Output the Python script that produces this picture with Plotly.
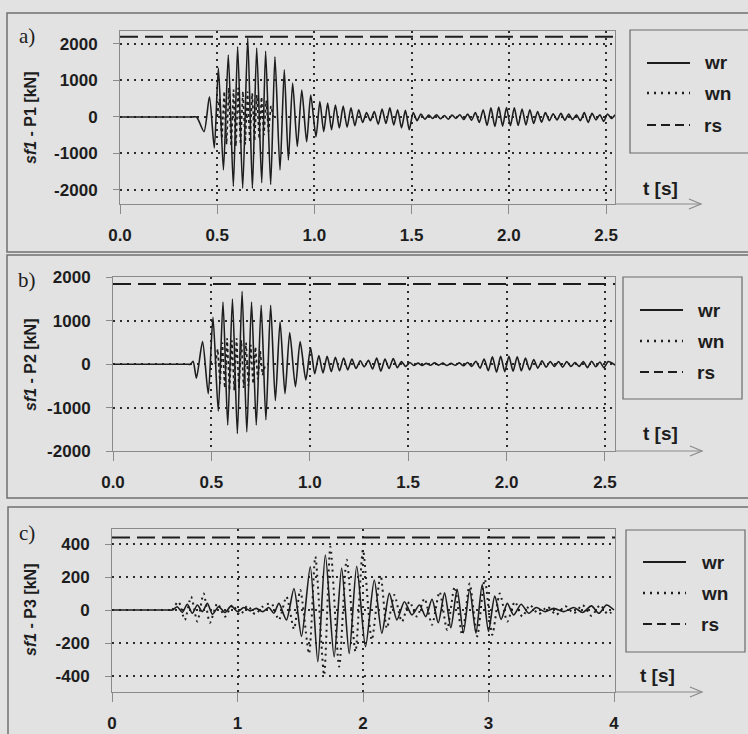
import plotly.graph_objects as go

W, H = 748, 734

# ---------------- data ----------------
# panel a) sf1 - P1 [kN], t in s
A_WR_T = [0.0, 0.37, 0.394, 0.432, 0.460, 0.485, 0.506, 0.532, 0.557, 0.583, 0.605, 0.631, 0.657, 0.681,
          0.703, 0.729, 0.749, 0.775, 0.797, 0.823, 0.845, 0.866, 0.888, 0.912, 0.935, 0.960, 0.981,
          1.008, 1.028, 1.048, 1.068, 1.088, 1.108, 1.128, 1.148, 1.168, 1.188, 1.208, 1.228, 1.248,
          1.268, 1.288, 1.308, 1.328, 1.348, 1.368, 1.388, 1.408, 1.428, 1.448, 1.468, 1.488, 1.508,
          1.528, 1.548, 1.568, 1.588, 1.608, 1.628, 1.648, 1.668, 1.688, 1.708, 1.728, 1.748, 1.768,
          1.788, 1.808, 1.828, 1.848, 1.868, 1.888, 1.908, 1.928, 1.948, 1.968, 1.988, 2.008, 2.028,
          2.048, 2.068, 2.088, 2.108, 2.128, 2.148, 2.168, 2.188, 2.208, 2.228, 2.248, 2.268, 2.288,
          2.308, 2.328, 2.348, 2.368, 2.388, 2.408, 2.428, 2.448, 2.468, 2.488, 2.508, 2.528, 2.546]
A_WR_V = [0, 0, 0, -400, 556, -850, 1340, -1450, 1700, -1900, 1925, -1950, 2160, -1960,
          1890, -1800, 1800, -1850, 1650, -1450, 1290, -1180, 930, -810, 740, -680, 600,
          -540, 420, -400, 380, -350, 330, -300, 300, -280, 250, -240, 200, -150,
          120, -100, 150, -200, 220, -180, 250, -220, 200, -300, 180, -350, 120,
          -100, 80, -60, 50, -40, 60, -50, 40, -60, 50, -40, 60, -70,
          80, -90, 120, -150, 200, -230, 250, -260, 270, -250, 260, -240, 250,
          -230, 220, -220, 200, -180, 150, -140, 120, -100, 90, -80, 100, -90,
          80, -70, 60, -100, 120, -150, 100, -80, 60, -120, 80, -40, 60]
A_WN_T = [0.50, 0.512, 0.524, 0.536, 0.548, 0.560, 0.572, 0.584, 0.596, 0.608, 0.620, 0.632, 0.644,
          0.656, 0.668, 0.680, 0.692, 0.704, 0.716, 0.728, 0.740, 0.752, 0.764, 0.776, 0.790]
A_WN_V = [0, 500, -600, 700, -750, 800, -800, 750, -800, 800, -750, 700, -750,
          700, -700, 650, -650, 600, -600, 550, -500, 450, -400, 300, 0]
A_RS = 2200

# panel b) sf1 - P2 [kN]
B_WR_T = [0.0, 0.37, 0.394, 0.407, 0.424, 0.455, 0.484, 0.508, 0.535, 0.559, 0.583, 0.607, 0.632, 0.656,
          0.680, 0.704, 0.728, 0.753, 0.777, 0.801, 0.825, 0.849, 0.874, 0.898, 0.927, 0.951, 0.980,
          1.004, 1.025, 1.046, 1.067, 1.088, 1.109, 1.130, 1.151, 1.172, 1.193, 1.214, 1.235, 1.256,
          1.277, 1.298, 1.319, 1.340, 1.361, 1.382, 1.403, 1.424, 1.445, 1.466, 1.487, 1.508, 1.529,
          1.550, 1.571, 1.592, 1.613, 1.634, 1.655, 1.676, 1.697, 1.718, 1.739, 1.760, 1.781, 1.802,
          1.823, 1.844, 1.865, 1.886, 1.907, 1.928, 1.949, 1.970, 1.991, 2.012, 2.033, 2.054, 2.075,
          2.096, 2.117, 2.138, 2.159, 2.180, 2.201, 2.222, 2.243, 2.264, 2.285, 2.306, 2.327, 2.348,
          2.369, 2.390, 2.411, 2.432, 2.453, 2.474, 2.495, 2.516, 2.551]
B_WR_V = [0, 0, 0, 70, -320, 520, -680, 1080, -1080, 1430, -1400, 1500, -1600, 1680,
          -1560, 1430, -1400, 1360, -1280, 1360, -840, 980, -680, 730, -520, 520, -360,
          380, -220, 200, -200, 180, -170, 160, -150, 140, -130, 120, -100, 80,
          -60, 90, -110, 140, -160, 120, -100, 130, -80, 60, -50, 40, -30,
          25, -30, 20, -25, 30, -20, 25, -30, 20, -25, 30, -35, 40,
          -50, 70, -90, 120, -150, 170, -180, 180, -170, 180, -160, 170, -150,
          140, -130, 110, -90, 80, -70, 60, -50, 60, -70, 60, -50, 40,
          -50, 60, -80, 70, -60, 50, -80, 60, -20, 50]
B_WN_T = [0.52, 0.532, 0.544, 0.556, 0.568, 0.580, 0.592, 0.604, 0.616, 0.628, 0.640, 0.652,
          0.664, 0.676, 0.688, 0.700, 0.712, 0.724, 0.736, 0.748, 0.760, 0.775]
B_WN_V = [0, 350, -450, 500, -550, 600, -600, 550, -600, 600, -550, 550,
          -550, 500, -500, 450, -450, 400, -350, 300, -250, 0]
B_RS = 1850

# panel c) sf1 - P3 [kN]
C_WR_T = [0.0, 0.45, 0.48, 0.52, 0.56, 0.60, 0.64, 0.68, 0.72, 0.76, 0.80, 0.85, 0.90, 0.95, 1.00, 1.05,
          1.10, 1.15, 1.20, 1.25, 1.29, 1.33, 1.39, 1.45, 1.51, 1.58, 1.64, 1.70, 1.77, 1.83, 1.89,
          1.95, 2.02, 2.09, 2.15, 2.21, 2.27, 2.33, 2.39, 2.45, 2.50, 2.55, 2.60, 2.65, 2.70, 2.75,
          2.80, 2.85, 2.90, 2.95, 3.00, 3.05, 3.10, 3.15, 3.20, 3.26, 3.32, 3.38, 3.45, 3.52, 3.60,
          3.68, 3.75, 3.82, 3.88, 3.94, 4.0]
C_WR_V = [0, 0, 0, 20, -15, 35, -20, 30, -10, 40, -25, 20, -15, 25, -10, 15,
          -5, 10, -10, 15, -20, 40, -60, 130, -160, 262, -313, 333, -283, 254, -263,
          265, -222, 182, -141, 101, -60, 50, -30, 30, -40, 65, -77, 105, -107, 125,
          -137, 125, -140, 155, -130, 85, -57, 40, -30, 35, -20, 15, -10, 10, -10,
          15, -15, 25, -20, 30, 0]
C_WN_T = [0.48, 0.53, 0.58, 0.63, 0.68, 0.73, 0.78, 0.84, 0.90, 0.96, 1.02, 1.08, 1.14, 1.20,
          1.27, 1.33, 1.39, 1.45, 1.50, 1.57, 1.62, 1.69, 1.74, 1.81, 1.87, 1.94, 2.00, 2.07, 2.14,
          2.19, 2.25, 2.31, 2.37, 2.43, 2.49, 2.55, 2.61, 2.67, 2.73, 2.79, 2.85, 2.91, 2.97, 3.03,
          3.09, 3.15, 3.21, 3.27, 3.33, 3.40, 3.47, 3.54, 3.61, 3.68, 3.75, 3.82, 3.89, 3.95, 4.0]
C_WN_V = [0, 50, -60, 80, -70, 100, -77, 40, -40, 30, -30, 25, -25, 20,
          40, -60, 80, -115, 121, -265, 323, -394, 383, -343, 305, -252, 364, -182, 212,
          -111, 91, -71, 50, -40, 70, -90, 110, -120, 140, -150, 160, -160, 186, -150,
          100, -70, 50, -40, 30, -25, 20, -30, 25, -20, 30, -35, 30, -25, 0]
C_RS = 440

A_XTICKS = [0, 0.5, 1.0, 1.5, 2.0, 2.5]
A_XTEXT = ["0.0", "0.5", "1.0", "1.5", "2.0", "2.5"]
C_XTICKS = [0, 1, 2, 3, 4]
C_XTEXT = ["0", "1", "2", "3", "4"]
AB_YTICKS = [-2000, -1000, 0, 1000, 2000]
AB_YTEXT = ["-2000", "-1000", "0", "1000", "2000"]
C_YTICKS = [-400, -200, 0, 200, 400]
C_YTEXT = ["-400", "-200", "0", "200", "400"]
YTITLES = ["P1", "P2", "P3"]
PANEL_LETTERS = ["a)", "b)", "c)"]
LEGEND_NAMES = ["wr", "wn", "rs"]

# ---------------- styling ----------------
BG = "#e2e2e2"
INK = "#1d1d1d"
FRAME = "#8a8a8a"
FONT = "Liberation Sans"


def fx(x):
    return x / W


def fy(y):
    return 1 - y / H


fig = go.Figure()

panels = [
    dict(wr=(A_WR_T, A_WR_V), wn=(A_WN_T, A_WN_V), rs=A_RS, xr=[0, 2.546], yr=[-2384, 2356],
         dom_x=(120, 615), dom_y=(31, 204), xt=(A_XTICKS, A_XTEXT), yt=(AB_YTICKS, AB_YTEXT),
         wn_shape="linear", wn_dash="dot", wn_w=1.7),
    dict(wr=(B_WR_T, B_WR_V), wn=(B_WN_T, B_WN_V), rs=B_RS, xr=[0, 2.551], yr=[-2000, 2010],
         dom_x=(113, 615), dom_y=(277, 451), xt=(A_XTICKS, A_XTEXT), yt=(AB_YTICKS, AB_YTEXT),
         wn_shape="linear", wn_dash="dot", wn_w=1.7),
    dict(wr=(C_WR_T, C_WR_V), wn=(C_WN_T, C_WN_V), rs=C_RS, xr=[0, 4.008], yr=[-497, 491],
         dom_x=(112, 615), dom_y=(529, 692), xt=(C_XTICKS, C_XTEXT), yt=(C_YTICKS, C_YTEXT),
         wn_shape="spline", wn_dash="2px,4px", wn_w=2.0),
]

shapes = []
annotations = []

for i, p in enumerate(panels):
    sx = "" if i == 0 else str(i + 1)
    xa, ya = "x" + sx, "y" + sx
    fig.add_trace(go.Scatter(x=p["wn"][0], y=p["wn"][1], mode="lines", xaxis=xa, yaxis=ya,
                             line=dict(color=INK, width=p["wn_w"], dash=p["wn_dash"],
                                       shape=p["wn_shape"], smoothing=0.7),
                             showlegend=False, name="wn"))
    fig.add_trace(go.Scatter(x=p["wr"][0], y=p["wr"][1], mode="lines", xaxis=xa, yaxis=ya,
                             line=dict(color=INK, width=1.6, shape="spline", smoothing=0.7),
                             showlegend=False, name="wr"))
    fig.add_trace(go.Scatter(x=[p["xr"][0], p["xr"][1]], y=[p["rs"], p["rs"]], mode="lines",
                             xaxis=xa, yaxis=ya, line=dict(color=INK, width=2, dash="18px,7px"),
                             showlegend=False, name="rs"))

    axis_common = dict(showline=True, mirror=True, linecolor=FRAME, linewidth=1,
                       showgrid=True, gridcolor="#2b2b2b", griddash="2px,5px", gridwidth=1.5,
                       zeroline=False, ticks="outside", tickcolor=FRAME, tickwidth=1,
                       automargin=False,
                       tickfont=dict(family=FONT, size=17, color=INK, weight="bold"))
    x0, x1 = p["dom_x"]
    y0, y1 = p["dom_y"]
    fig.update_layout(**{
        "xaxis" + sx: dict(axis_common, domain=[fx(x0), fx(x1)], range=p["xr"],
                           tickvals=p["xt"][0], ticktext=p["xt"][1], ticklen=9,
                           ticklabelstandoff=7, anchor=ya),
        "yaxis" + sx: dict(axis_common, domain=[fy(y1), fy(y0)], range=p["yr"],
                           tickvals=p["yt"][0], ticktext=p["yt"][1], ticklen=6,
                           ticklabelstandoff=12, anchor=xa),
    })

# panel frames
for (top, bot, left) in [(13, 252, 7), (255, 498, 7), (507, 760, 8)]:
    shapes.append(dict(type="rect", xref="paper", yref="paper", x0=fx(left), x1=fx(770),
                       y0=fy(bot), y1=fy(top), line=dict(color="#707070", width=1.5)))

# axis arrows to the right of each plot
for (yax, xend) in [(204, 701), (451, 702), (692, 702)]:
    shapes.append(dict(type="line", xref="paper", yref="paper", x0=fx(615), x1=fx(xend),
                       y0=fy(yax), y1=fy(yax), line=dict(color=FRAME, width=1.2)))
    shapes.append(dict(type="path", xref="paper", yref="paper",
                       path=f"M {fx(xend-12)},{fy(yax-5)} L {fx(xend)},{fy(yax)} L {fx(xend-12)},{fy(yax+5)}",
                       line=dict(color=FRAME, width=1.2)))

# legend boxes
legend_boxes = [
    dict(box=(630, 30, 760, 153), ys=(63, 93, 125), lx=(647, 690), tx=702, ts=(660, 188)),
    dict(box=(623, 277, 742, 399), ys=(310, 341, 372), lx=(640, 683), tx=695, ts=(660, 433)),
    dict(box=(626, 530, 745, 652), ys=(562, 593, 624), lx=(643, 686), tx=699, ts=(657, 675)),
]
dashes = ["solid", "2px,5px", "9px,5px"]
for lb in legend_boxes:
    bx0, by0, bx1, by1 = lb["box"]
    shapes.append(dict(type="rect", xref="paper", yref="paper", x0=fx(bx0), x1=fx(bx1),
                       y0=fy(by1), y1=fy(by0), line=dict(color="#6a6a6a", width=1.2)))
    for k, name in enumerate(LEGEND_NAMES):
        yy = lb["ys"][k]
        shapes.append(dict(type="line", xref="paper", yref="paper", x0=fx(lb["lx"][0]),
                           x1=fx(lb["lx"][1]), y0=fy(yy), y1=fy(yy),
                           line=dict(color=INK, width=2 if k != 1 else 2.4, dash=dashes[k])))
        annotations.append(dict(text=name, xref="paper", yref="paper", x=fx(lb["tx"]), y=fy(yy),
                                xanchor="left", yanchor="middle", showarrow=False,
                                font=dict(family=FONT, size=19, color=INK, weight="bold")))
    annotations.append(dict(text="t [s]", xref="paper", yref="paper", x=fx(lb["ts"][0]),
                            y=fy(lb["ts"][1]), xanchor="center", yanchor="middle", showarrow=False,
                            font=dict(family=FONT, size=19, color=INK, weight="bold")))

# panel letters and y titles
for i, (ly, ty) in enumerate([(36, 118), (280, 365), (533, 610)]):
    annotations.append(dict(text=PANEL_LETTERS[i], xref="paper", yref="paper", x=fx(27), y=fy(ly),
                            xanchor="center", yanchor="middle", showarrow=False,
                            font=dict(family="Liberation Serif", size=21, color=INK)))
    annotations.append(dict(text=f"<i>sf1</i> - {YTITLES[i]} [kN]", xref="paper", yref="paper",
                            x=fx(30), y=fy(ty), xanchor="center", yanchor="middle",
                            textangle=-90, showarrow=False,
                            font=dict(family=FONT, size=16, color=INK, weight="bold")))

fig.update_layout(width=W, height=H, margin=dict(l=0, r=0, t=0, b=0, autoexpand=False),
                  paper_bgcolor=BG, plot_bgcolor=BG, shapes=shapes, annotations=annotations,
                  showlegend=False)

fig.write_html("out.html", config={"displayModeBar": False},
               post_script="document.body.style.margin='0px';document.body.style.overflow='hidden';")
